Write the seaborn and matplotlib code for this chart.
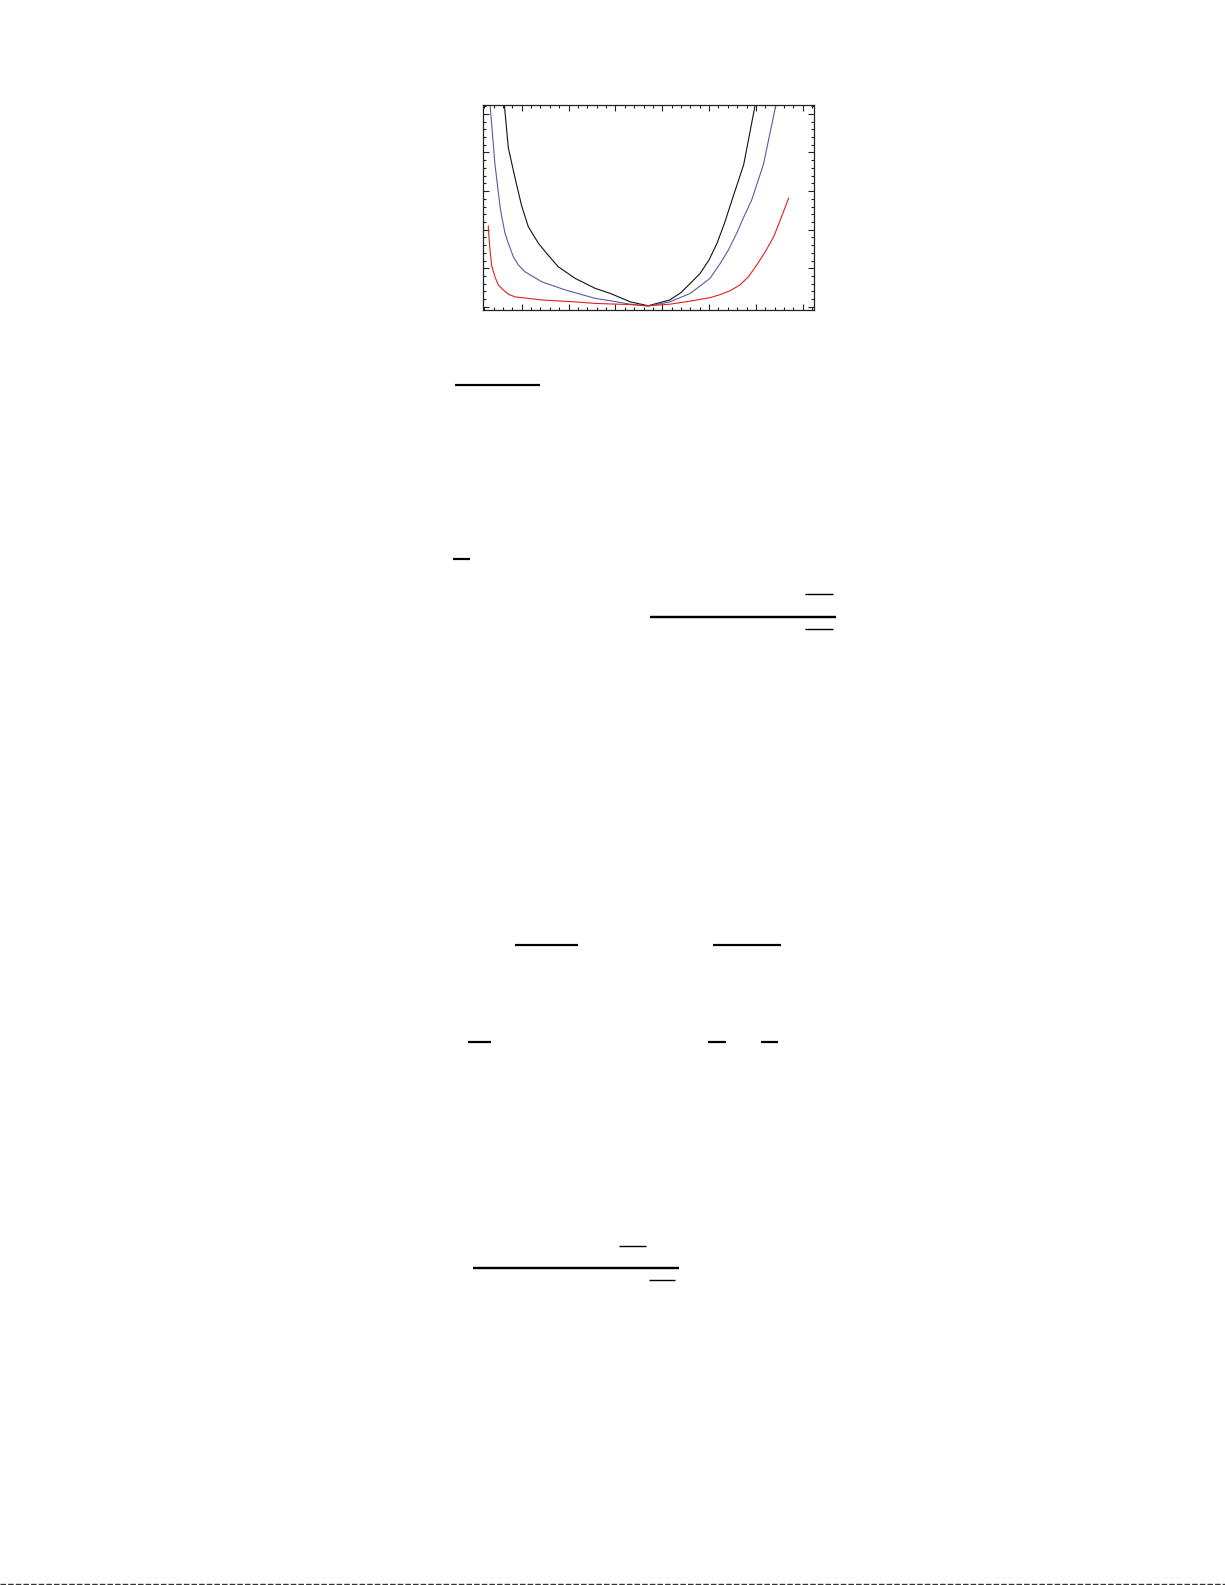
#!/usr/bin/env python3
# coding=utf-8
from matplotlib import pyplot as plt
from matplotlib.lines import Line2D
from matplotlib.ticker import MultipleLocator, AutoMinorLocator
import pandas as pd
import seaborn as sns

# values (axes units: major tick = 1)
black_x = [0.628, 0.714, 0.857, 1.0, 1.14, 1.355, 1.53, 1.78, 2.14, 2.57, 2.89, 3.32, 3.70,
           4.16, 4.40, 4.60, 4.81, 5.0, 5.17, 5.33, 5.49, 5.74, 5.99]
black_y = [5.25, 4.12, 3.34, 2.61, 2.08, 1.65, 1.39, 1.04, 0.74, 0.48, 0.35, 0.13, 0.03,
           0.18, 0.37, 0.61, 0.87, 1.22, 1.65, 2.17, 2.77, 3.69, 5.27]

blue_x = [0.323, 0.429, 0.536, 0.573, 0.643, 0.714, 0.82, 0.927, 1.07, 1.43, 1.93, 2.57, 2.89,
          3.32, 3.70, 4.16, 4.60, 5.02, 5.24, 5.41, 5.59, 5.73, 5.91, 6.16, 6.43]
blue_y = [5.25, 3.69, 2.61, 2.34, 1.91, 1.65, 1.30, 1.09, 0.91, 0.65, 0.44, 0.22, 0.16,
          0.07, 0.02, 0.13, 0.35, 0.74, 1.13, 1.47, 1.91, 2.30, 2.77, 3.69, 5.25]

red_x = [0.286, 0.30, 0.323, 0.36, 0.429, 0.50, 0.607, 0.714, 0.857, 1.43, 2.14, 2.57, 3.32,
         3.70, 4.16, 4.60, 5.02, 5.24, 5.45, 5.66, 5.84, 6.02, 6.20, 6.38, 6.52, 6.70]
red_y = [2.10, 1.82, 1.48, 1.06, 0.78, 0.57, 0.44, 0.33, 0.26, 0.18, 0.13, 0.09, 0.06,
         0.03, 0.07, 0.15, 0.24, 0.32, 0.42, 0.57, 0.78, 1.09, 1.43, 1.82, 2.25, 2.82]

curve_names = ["black", "blue", "red"]
curve_colors = {"black": "#111111", "blue": "#5a5aa8", "red": "#e02020"}

# fraction bars of the surrounding page text, pixel coords (x0, x1, y, width px)
page_rules = [
    (455, 540, 384.7, 2.2),
    (452.7, 470, 559, 2.2),
    (805, 832.7, 594.3, 1.4),
    (650, 836, 616.7, 2.4),
    (805, 832.7, 629.3, 1.4),
    (515, 577.7, 944.7, 2.2),
    (712.7, 781, 944.7, 2.2),
    (468.3, 491, 1041.7, 2.2),
    (708.3, 725.7, 1041.7, 2.2),
    (761, 777.7, 1041.7, 2.2),
    (619, 645.7, 1246, 1.4),
    (472.7, 679, 1267.7, 2.4),
    (649, 675, 1280, 1.4),
]

W, H = 1225, 1585

df = pd.concat([
    pd.DataFrame({"x": black_x, "y": black_y, "curve": "black"}),
    pd.DataFrame({"x": blue_x, "y": blue_y, "curve": "blue"}),
    pd.DataFrame({"x": red_x, "y": red_y, "curve": "red"}),
], ignore_index=True)

sns.set_style("ticks")
fig = plt.figure(figsize=(W / 100, H / 100), dpi=100)
ax = fig.add_axes([482.7 / W, 1 - 310 / H, (814 - 482.7) / W, (310 - 105) / H])

sns.lineplot(data=df, x="x", y="y", hue="curve", hue_order=curve_names,
             palette=curve_colors, estimator=None, sort=False, units="curve",
             linewidth=0.8, legend=False, ax=ax)

ax.set_xlim(0.167, 7.24)
ax.set_ylim(-0.08, 5.23)
ax.xaxis.set_major_locator(MultipleLocator(1))
ax.yaxis.set_major_locator(MultipleLocator(1))
ax.xaxis.set_minor_locator(AutoMinorLocator(5))
ax.yaxis.set_minor_locator(AutoMinorLocator(5))
ax.tick_params(which="both", direction="in", top=True, right=True,
               labelbottom=False, labelleft=False, width=0.8, color="#222222")
ax.tick_params(which="major", length=4)
ax.tick_params(which="minor", length=2.2)
ax.set(xlabel=None, ylabel=None)
for s in ax.spines.values():
    s.set_linewidth(0.9)
    s.set_color("#222222")

# page rules
for x0, x1, y, w in page_rules:
    fig.add_artist(Line2D([x0 / W, x1 / W], [1 - y / H, 1 - y / H],
                          transform=fig.transFigure, color="black",
                          linewidth=w * 0.72, solid_capstyle="butt"))

# scanner edge at the bottom of the page
fig.add_artist(Line2D([0, 1], [1 - 1583.5 / H, 1 - 1583.5 / H], transform=fig.transFigure,
                      color="#333333", linewidth=1.0, linestyle=(0, (4, 1.5))))

fig.savefig("out.png", dpi=100)
